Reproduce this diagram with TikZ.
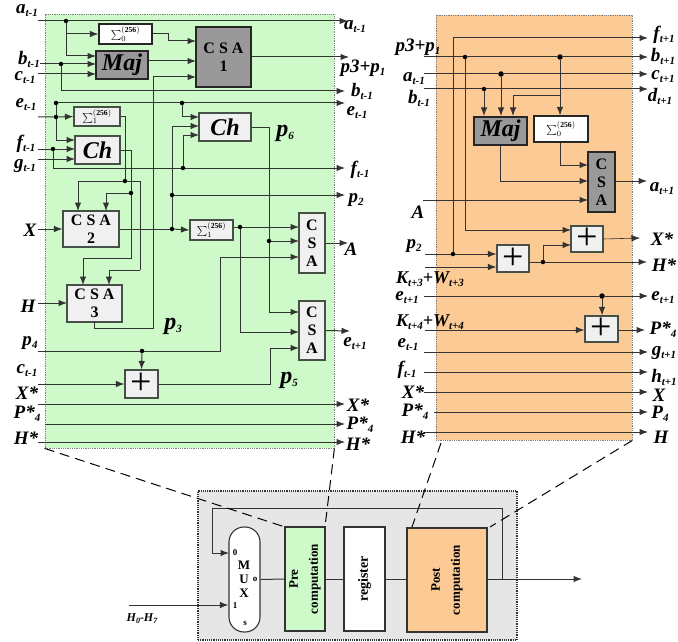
\documentclass[tikz,border=0pt]{standalone}
\usepackage{fontspec}
\setmainfont{Liberation Serif}
\usepackage{tikz}
\usepackage{xcolor}
\usetikzlibrary{arrows.meta}
\definecolor{pregreen}{RGB}{205,250,200}
\definecolor{postorange}{RGB}{252,202,148}
\definecolor{blockgray}{RGB}{153,153,153}
\definecolor{lightblock}{RGB}{240,240,240}
\definecolor{shellgray}{RGB}{230,230,230}
\definecolor{edgegray}{RGB}{70,80,70}
\newcommand{\sublab}[2]{#1\raisebox{-3pt}{\fontsize{11}{11}\selectfont #2}}
\newcommand{\sigmalab}[1]{$\textstyle\sum\nolimits_{#1}^{\mathbf{(256)}}$}
\tikzset{
    panel/.style={draw=gray, densely dotted, line width=0.8pt, inner sep=0pt},
    block/.style={draw=edgegray, line width=1.1pt, fill=lightblock, inner sep=0pt, align=center,
        font=\fontsize{16}{18}\selectfont\bfseries},
    darkblock/.style={block, draw=black!85, fill=blockgray, line width=1.4pt},
    fnlab/.style={font=\fontsize{24}{24}\selectfont\bfseries\itshape},
    sigbox/.style={block, font=\fontsize{11}{11}\selectfont},
    plusbox/.style={block, font=\fontsize{38}{38}\selectfont},
    lab/.style={inner sep=0pt, font=\fontsize{19}{19}\selectfont\bfseries\itshape},
    plab/.style={lab, font=\fontsize{24}{24}\selectfont\bfseries\itshape},
    muxlab/.style={inner sep=0pt, font=\fontsize{13}{13}\selectfont\bfseries},
    muxpin/.style={muxlab, font=\fontsize{9}{9}\selectfont\bfseries},
    unitlab/.style={draw=black!80, line width=1.1pt, inner sep=0pt, align=center, rotate=90,
        font=\fontsize{13}{20}\selectfont\bfseries},
    junction/.style={circle, fill=black, inner sep=0pt, minimum size=4.5pt},
    net/.style={line width=1pt, draw=black!80},
    wire/.style={net, -{Latex[length=8.5pt,width=6.5pt]}},
    feeder/.style={line width=1pt, dash pattern=on 10pt off 6pt}
}
\begin{document}
\begin{tikzpicture}[x=1pt,y=-1pt]
    \useasboundingbox (0,0) rectangle (678,642);
    \clip (0,0) rectangle (678,642);

    % panels
    \node[panel, fill=pregreen, minimum width=289pt, minimum height=434pt] (prepanel) at (189.5,231) {};
    \node[panel, fill=postorange, minimum width=196pt, minimum height=425pt] (postpanel) at (534,227.5) {};
    \node[draw=black!80, densely dotted, line width=1.2pt, fill=shellgray, inner sep=0pt,
        minimum width=319pt, minimum height=149pt] (shell) at (357.5,565.5) {};

    % pre computation blocks
    \node[sigbox, fill=white, draw=black!85, minimum width=53pt, minimum height=20pt] (sigzeroA) at (125.5,34) {\sigmalab{0}};
    \node[darkblock, fnlab, minimum width=52pt, minimum height=28pt] (majA) at (122,65) {Maj};
    \node[darkblock, minimum width=55pt, minimum height=60pt] (csaone) at (223.5,57) {C S A\\1};
    \node[sigbox, minimum width=46pt, minimum height=19pt] (sigoneA) at (97,116.5) {\sigmalab{1}};
    \node[block, fnlab, minimum width=45pt, minimum height=28pt] (chA) at (97.5,150) {Ch};
    \node[block, fnlab, minimum width=52pt, minimum height=28pt] (chB) at (225,127) {Ch};
    \node[block, minimum width=56pt, minimum height=36pt] (csatwo) at (91,229) {C S A\\2};
    \node[block, minimum width=55pt, minimum height=37pt] (csathree) at (94.5,303.5) {C S A\\3};
    \node[sigbox, minimum width=43pt, minimum height=20pt] (sigoneB) at (211.5,230) {\sigmalab{1}};
    \node[block, minimum width=26pt, minimum height=60pt] (csaA) at (312,243) {C\\S\\A};
    \node[block, minimum width=26pt, minimum height=59pt] (csaE) at (312,330.5) {C\\S\\A};
    \node[plusbox, minimum width=33pt, minimum height=28pt] (plusA) at (141.5,384) {+};

    % post computation blocks
    \node[darkblock, fnlab, minimum width=53pt, minimum height=28pt] (majB) at (500.5,131) {Maj};
    \node[sigbox, fill=white, draw=black!85, minimum width=54pt, minimum height=26pt] (sigzeroB) at (561,129) {\sigmalab{0}};
    \node[darkblock, minimum width=27pt, minimum height=60pt] (csaB) at (601.5,182) {C\\S\\A};
    \node[plusbox, minimum width=32pt, minimum height=26pt] (plusB) at (587,239) {+};
    \node[plusbox, minimum width=32pt, minimum height=27pt] (plusC) at (513,258.5) {+};
    \node[plusbox, minimum width=33pt, minimum height=26pt] (plusD) at (601.5,329) {+};

    % bottom units
    \node[draw=black!80, line width=1.1pt, fill=white, rounded corners=15pt, minimum width=31pt, minimum height=105pt, inner sep=0pt] (mux) at (244.5,579.5) {};
    \node[unitlab, fill=pregreen, minimum width=104pt, minimum height=40pt] (preunit) at (305,579) {Pre\\computation};
    \node[unitlab, fill=white, minimum width=104pt, minimum height=41pt, font=\fontsize{14}{14}\selectfont\bfseries] (regunit) at (364.5,579) {register};
    \node[unitlab, fill=postorange, minimum width=104pt, minimum height=80pt] (postunit) at (447,580) {Post\\computation};
    \node[muxlab] (muxM) at (244,565) {M};
    \node[muxlab] (muxU) at (244,579) {U};
    \node[muxlab] (muxX) at (244,593) {X};
    \node[muxpin] (muxzero) at (235,553) {0};
    \node[muxpin] (muxone) at (235,606) {1};
    \node[muxpin] (muxout) at (255,579) {o};
    \node[muxpin] (muxsel) at (245,623) {s};

    % junctions, pre computation
    \node[junction] (ja) at (66,21) {};
    \node[junction] (jb) at (61,64) {};
    \node[junction] (je) at (56,103) {};
    \node[junction] (jeb) at (56,117) {};
    \node[junction] (jec) at (182,103) {};
    \node[junction] (jf) at (53,149) {};
    \node[junction] (jg) at (183,168) {};
    \node[junction] (jsig) at (125,181) {};
    \node[junction] (jch) at (131,193) {};
    \node[junction] (jptwo) at (172,195) {};
    \node[junction] (jcsa) at (172,229) {};
    \node[junction] (jsigb) at (240,227) {};
    \node[junction] (jsix) at (269,241) {};
    \node[junction] (jfour) at (142,351) {};

    % free ends, pre computation
    \foreach \pname/\px/\py in {aleft/38/21, aright/348/21, bleft/40/64, bright/345/91,
        cleft/38/74, pone/349/57, eright/345/103, esig/38/117, fleft/38/149, fright/345/168,
        gleft/38/159, ptwo/345/195, xleft/38/229, hleft/38/303, fourleft/38/351,
        xsleft/38/404, xsright/345/404, psleft/45/424, psright/345/424, hsleft/38/442, hsright/345/442,
        aout/348/243, eout/350/331, cleftb/38/384}
        \coordinate (\pname) at (\px,\py);

    % a, b, c
    \draw[wire] (aleft) -- (ja) -- (aright);
    \draw[wire] (ja) |- (sigzeroA.west);
    \draw[wire] (ja) |- (96,56);
    \draw[wire] (bleft) -- (jb) -- (96,64);
    \draw[wire] (jb) |- (bright);
    \draw[wire] (cleft) -- (96,74);
    \draw[wire] (sigzeroA.east) -- (168,34) -- (168,41) -- (196,41);
    \draw[wire] (148,61) -- (196,61);
    \draw[wire] (csaone.east) -- (pone);

    % e, f, g
    \draw[net] (je) -- (jeb);
    \draw[wire] (je) -- (jec) -- (eright);
    \draw[wire] (esig) -- (jeb) -- (sigoneA.west);
    \draw[wire] (jeb) |- (75,140);
    \draw[wire] (jec) |- (199,117);
    \draw[wire] (fleft) -- (jf) -- (75,149);
    \draw[wire] (jf) |- (jg) -- (fright);
    \draw[wire] (gleft) -- (75,159);
    \draw[wire] (jg) |- (199,135);

    % sums into the csa 2 and 3
    \draw[net] (sigoneA.east) -| (jsig);
    \draw[net] (chA.east) -| (jch);
    \draw[wire] (jsig) -| (78,211);
    \draw[wire] (jch) -| (106,211);
    \draw[net] (jsig) -- (140,181) -- (140,270);
    \draw[wire] (140,270) -| (109,285);
    \draw[wire] (jch) |- (83,258) -- (83,285);
    \draw[wire] (xleft) -- (csatwo.west);
    \draw[wire] (hleft) -- (67,303);

    % p3
    \draw[wire] (94,322) |- (153,328) |- (196,77);

    % csa 2 out
    \draw[net] (csatwo.east) -- (jcsa);
    \draw[wire] (jcsa) -- (sigoneB.west);
    \draw[net] (jcsa) -- (jptwo);
    \draw[wire] (jptwo) |- (199,126);
    \draw[wire] (jptwo) -- (ptwo);

    % into the right csa pair
    \draw[wire] (sigoneB.east |- jsigb) -- (jsigb) -- (299,227);
    \draw[wire] (jsigb) |- (299,332);
    \draw[net] (chB.east) -| (jsix);
    \draw[wire] (jsix) -- (299,241);
    \draw[wire] (jsix) |- (299,312);
    \draw[wire] (fourleft) -- (jfour) -- (220,351) |- (299,257);
    \draw[wire] (jfour) -- (plusA.north);
    \draw[wire] (cleftb) -- (plusA.west);
    \draw[wire] (plusA.east) -- (270,384) |- (299,348);
    \draw[wire] (csaA.east) -- (aout);
    \draw[wire] (csaE.east) -- (eout);
    \draw[wire] (xsleft) -- (xsright);
    \draw[wire] (psleft) -- (psright);
    \draw[wire] (hsleft) -- (hsright);

    % junctions and free ends, post computation
    \node[junction] (kp) at (465,57) {};
    \node[junction, minimum size=5.5pt] (kq) at (560,57) {};
    \node[junction, minimum size=5.5pt] (ka) at (501,74) {};
    \node[junction] (kb) at (484,89) {};
    \node[junction] (kptwo) at (453,254) {};
    \node[junction] (kplus) at (543,262) {};
    \node[junction, minimum size=5.5pt] (ke) at (602,296) {};
    \foreach \pname/\py in {pthree/57, alast/74, blast/89, elast/296, eprev/352, fprev/372, xstar/392, hstar/432}{
        \coordinate (\pname L) at (424,\py);
        \coordinate (\pname R) at (648,\py);
    }
    \coordinate (pstarL) at (434,412);
    \coordinate (pstarR) at (648,412);
    \coordinate (ftop) at (453,38);
    \coordinate (fnext) at (648,38);
    \coordinate (Aleft) at (423,200);
    \coordinate (anext) at (647,181);
    \coordinate (ptwoleft) at (425,254);
    \coordinate (ktleft) at (425,267);
    \coordinate (kfleft) at (425,330);
    \coordinate (xnext) at (640,238);
    \coordinate (hnext) at (647,262);
    \coordinate (pnext) at (645,330);

    % post computation wires
    \draw[wire] (ftop) -- (fnext);
    \draw[net] (ftop) -- (kptwo);
    \draw[wire] (pthreeL) -- (kp) -- (kq) -- (pthreeR);
    \draw[wire] (kp) |- (571,230);
    \draw[wire] (alastL) -- (ka) -- (alastR);
    \draw[wire] (blastL) -- (kb) -- (blastR);
    \draw[wire] (ka) -- (501,116);
    \draw[wire] (kb) -- (484,116);
    \draw[wire] (kq) -- (sigzeroB.north -| kq);
    \draw[wire] (560,96) -| (513,116);
    \draw[wire] (sigzeroB.south -| kq) |- (588,165);
    \draw[wire] (500,145) |- (588,181);
    \draw[wire] (Aleft) -- (588,200);
    \draw[wire] (csaB.east |- anext) -- (anext);
    \draw[wire] (ptwoleft) -- (kptwo) -- (plusC.west |- kptwo);
    \draw[wire] (ktleft) -- (plusC.west |- ktleft);
    \draw[net] (plusC.east |- kplus) -- (kplus);
    \draw[wire] (kplus) -- (hnext);
    \draw[wire] (kplus) |- (571,245);
    \draw[wire, line width=0.6pt] (plusB.east) -- (xnext);
    \draw[wire] (elastL) -- (ke) -- (elastR);
    \draw[wire] (ke) -- (plusD.north -| ke);
    \draw[wire] (kfleft) -- (plusD.west |- kfleft);
    \draw[wire] (plusD.east |- pnext) -- (pnext);
    \draw[wire] (eprevL) -- (eprevR);
    \draw[wire] (fprevL) -- (fprevR);
    \draw[wire] (xstarL) -- (xstarR);
    \draw[wire] (pstarL) -- (pstarR);
    \draw[wire] (hstarL) -- (hstarR);

    % bottom wires
    \coordinate (hinput) at (129,605);
    \coordinate (fbtap) at (502,579);
    \coordinate (mainout) at (582,579);
    \draw[wire] (hinput) -- (mux.west |- hinput);
    \draw[net] (mux.east) -- (preunit.north);
    \draw[net] (preunit.south) -- (regunit.north);
    \draw[net] (regunit.south) -- (postunit.north |- regunit.south);
    \draw[wire] (postunit.south |- mainout) -- (mainout);
    \draw[wire] (fbtap) |- (212,508) |- (229,553);

    % dashed leaders
    \coordinate (preunitL) at (285,527);
    \coordinate (preunitR) at (325,527);
    \coordinate (postleadL) at (441,443);
    \coordinate (postunitL) at (412,527);
    \coordinate (postunitR) at (490,527);
    \draw[feeder] (prepanel.south west) -- (preunitL);
    \draw[feeder] (prepanel.south east) -- (preunitR);
    \draw[feeder] (postleadL) -- (postunitL);
    \draw[feeder] (postpanel.south east) -- (postunitR);

    % left labels, pre computation
    \node[lab] (lAa) at (27,11) {\sublab{a}{t-1}};
    \node[lab] (lAb) at (29,59) {\sublab{b}{t-1}};
    \node[lab] (lAc) at (25,78) {\sublab{c}{t-1}};
    \node[lab] (lAe) at (26,105) {\sublab{e}{t-1}};
    \node[lab] (lAf) at (26,144) {\sublab{f}{t-1}};
    \node[lab] (lAg) at (25,166) {\sublab{g}{t-1}};
    \node[lab] (lAX) at (30,230) {X};
    \node[lab] (lAH) at (28,306) {H};
    \node[lab] (lAp) at (30,343) {\sublab{p}{4}};
    \node[lab] (lAcc) at (27,371) {\sublab{c}{t-1}};
    \node[lab] (lAXs) at (27,393) {X*};
    \node[lab] (lAPs) at (27,414) {\sublab{P*}{4}};
    \node[lab] (lAHs) at (26,438) {H*};

    % right labels, pre computation
    \node[lab] (rAa) at (355,27) {\sublab{a}{t-1}};
    \node[lab] (rApp) at (363,68) {\sublab{p3+p}{1}};
    \node[lab] (rAb) at (362,91) {\sublab{b}{t-1}};
    \node[lab] (rAe) at (357,113) {\sublab{e}{t-1}};
    \node[lab] (rAf) at (360,170) {\sublab{f}{t-1}};
    \node[lab] (rAp) at (356,200) {\sublab{p}{2}};
    \node[lab] (rAA) at (351,249) {A};
    \node[lab] (rAee) at (355,344) {\sublab{e}{t+1}};
    \node[lab] (rAX) at (358,405) {X*};
    \node[lab] (rAP) at (360,425) {\sublab{P*}{4}};
    \node[lab] (rAH) at (358,444) {H*};
    \node[plab] (lpsix) at (285,133) {\sublab{p}{6}};
    \node[plab] (lpthree) at (173,326) {\sublab{p}{3}};
    \node[plab] (lpfive) at (289,380) {\sublab{p}{5}};

    % left labels, post computation
    \node[lab] (lBp) at (418,47) {\sublab{p3+p}{1}};
    \node[lab] (lBa) at (414,79) {\sublab{a}{t-1}};
    \node[lab] (lBb) at (419,98) {\sublab{b}{t-1}};
    \node[lab] (lBA) at (418,212) {A};
    \node[lab] (lBptwo) at (414,246) {\sublab{p}{2}};
    \node[lab, font=\fontsize{18}{18}\selectfont\bfseries\itshape] (lBk) at (430,279) {\sublab{K}{t+3}+\sublab{W}{t+3}};
    \node[lab] (lBe) at (407,298) {\sublab{e}{t+1}};
    \node[lab, font=\fontsize{18}{18}\selectfont\bfseries\itshape] (lBkk) at (430,322) {\sublab{K}{t+4}+\sublab{W}{t+4}};
    \node[lab] (lBee) at (408,345) {\sublab{e}{t-1}};
    \node[lab] (lBf) at (407,370) {\sublab{f}{t-1}};
    \node[lab] (lBX) at (413,392) {X*};
    \node[lab] (lBP) at (415,412) {\sublab{P*}{4}};
    \node[lab] (lBH) at (413,437) {H*};

    % right labels, post computation
    \node[lab] (rBf) at (664,35) {\sublab{f}{t+1}};
    \node[lab] (rBb) at (663,56) {\sublab{b}{t+1}};
    \node[lab] (rBc) at (663,77) {\sublab{c}{t+1}};
    \node[lab] (rBd) at (660,96) {\sublab{d}{t+1}};
    \node[lab] (rBa) at (662,189) {\sublab{a}{t+1}};
    \node[lab] (rBX) at (662,239) {X*};
    \node[lab] (rBH) at (664,265) {H*};
    \node[lab] (rBe) at (663,298) {\sublab{e}{t+1}};
    \node[lab] (rBP) at (663,330) {\sublab{P*}{4}};
    \node[lab] (rBg) at (664,353) {\sublab{g}{t+1}};
    \node[lab] (rBh) at (664,377) {\sublab{h}{t+1}};
    \node[lab] (rBXX) at (659,395) {X};
    \node[lab] (rBPP) at (660,414) {\sublab{P}{4}};
    \node[lab] (rBHH) at (661,437) {H};
    \node[lab, font=\fontsize{12}{12}\selectfont\bfseries\itshape] (hrange) at (142,619) {H\raisebox{-2pt}{\fontsize{8}{8}\selectfont 0}-H\raisebox{-2pt}{\fontsize{8}{8}\selectfont 7}};
\end{tikzpicture}
\end{document}
